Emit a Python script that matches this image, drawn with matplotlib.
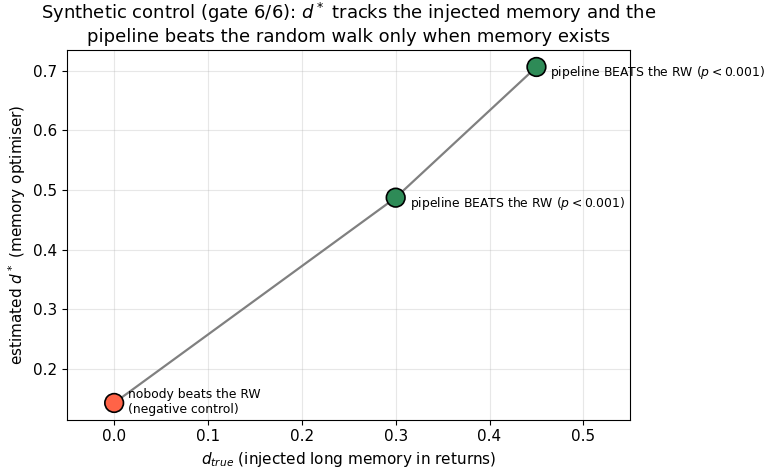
import matplotlib
matplotlib.use("Agg")
import matplotlib.pyplot as plt

# Synthetic control data
d_true = [0.0, 0.30, 0.45]
d_star = [0.143, 0.487, 0.706]
colors = ['#ff6347', '#2e8b57', '#2e8b57']
labels = ['nobody beats the RW\n(negative control)',
          'pipeline BEATS the RW ($p < 0.001$)',
          'pipeline BEATS the RW ($p < 0.001$)']
offsets = [(10, 1), (10, -4), (10, -4)]

fig, ax = plt.subplots(figsize=(7.64, 4.69), dpi=100)
fig.subplots_adjust(left=0.088, right=0.825, bottom=0.105, top=0.893)

ax.plot(d_true, d_star, color='gray', lw=1.6, zorder=2)
ax.scatter(d_true, d_star, s=180, c=colors, edgecolors='black', linewidths=1.2, zorder=3)

for x, y, lab, off in zip(d_true, d_star, labels, offsets):
    ax.annotate(lab, (x, y), xytext=off, textcoords='offset points',
                fontsize=8.9, va='center', ha='left', annotation_clip=False)

ax.set_xlim(-0.05, 0.55)
ax.grid(True, alpha=0.3)
ax.tick_params(labelsize=11)
ax.set_xlabel(r'$d_{true}$ (injected long memory in returns)', fontsize=11)
ax.set_ylabel(r'estimated $d^*$ (memory optimiser)', fontsize=11)
ax.set_title('Synthetic control (gate 6/6): $d^*$ tracks the injected memory and the\n'
             'pipeline beats the random walk only when memory exists', fontsize=13)

plt.savefig('out.png')
